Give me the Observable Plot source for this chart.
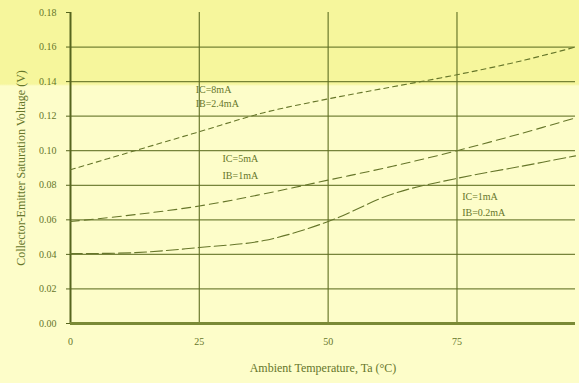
<!DOCTYPE html>
<html>
<head>
<meta charset="utf-8">
<script src="https://cdn.jsdelivr.net/npm/d3@7"></script>
<script src="https://cdn.jsdelivr.net/npm/@observablehq/plot@0.6"></script>
<style>
  html, body { margin: 0; padding: 0; }
  #wrap { position: relative; width: 579px; height: 383px; overflow: hidden;
          background: linear-gradient(to bottom, #f6f69c 0px, #f6f69c 84px, #fdfdc9 86px, #fdfdc9 100%); }
  #wrap svg { position: absolute; left: 0; top: 0; background: transparent; }
</style>
</head>
<body>
<div id="wrap"></div>
<script>
const temps = [0, 12.5, 25, 37.5, 50, 62.5, 75, 87.5, 98];
const vTop = [0.089, 0.100, 0.111, 0.122, 0.130, 0.137, 0.144, 0.152, 0.160];
const vMid = [0.059, 0.063, 0.068, 0.075, 0.083, 0.091, 0.100, 0.110, 0.119];
const vBot = [0.0405, 0.041, 0.044, 0.048, 0.059, 0.075, 0.084, 0.091, 0.097];
const xTicks = [0, 25, 50, 75];
const yTicks = [0, 0.02, 0.04, 0.06, 0.08, 0.10, 0.12, 0.14, 0.16, 0.18];
const gridY = [0.02, 0.04, 0.06, 0.08, 0.10, 0.12, 0.14, 0.16];
const gridX = [25, 50, 75];
const labelText = ["IC=8mA", "IB=2.4mA", "IC=5mA", "IB=1mA", "IC=1mA", "IB=0.2mA"];
const labelX = [24.3, 24.3, 29.5, 29.5, 76, 76];
const labelY = [0.135, 0.127, 0.0955, 0.0857, 0.0735, 0.0643];

const series = [
  {name: "top", v: vTop, dash: "5,4"},
  {name: "mid", v: vMid, dash: "9,5"},
  {name: "bot", v: vBot, dash: "12,4"}
];
const rows = series.flatMap(s => temps.map((t, i) => ({s: s.name, t, v: s.v[i]})));
const labels = labelText.map((txt, i) => ({txt, x: labelX[i], y: labelY[i]}));

const ink = "#66762a";
const chart = Plot.plot({
  width: 579,
  height: 383,
  marginLeft: 70,
  marginRight: 4,
  marginTop: 12,
  marginBottom: 60,
  style: {fontFamily: "Liberation Serif, serif", fontSize: "10px", color: ink, background: "transparent"},
  x: {domain: [0, 98]},
  y: {domain: [0, 0.18]},
  marks: [
    Plot.ruleY(gridY, {stroke: "#5f6f22", strokeWidth: 1.3, strokeOpacity: 0.85}),
    Plot.ruleX(gridX, {stroke: "#5f6f22", strokeWidth: 1.3, strokeOpacity: 0.85}),
    Plot.ruleX([0], {stroke: "#56651e", strokeWidth: 2}),
    Plot.ruleY([0], {stroke: "#7a8a36", strokeWidth: 3}),
    ...series.map(s => Plot.line(rows.filter(r => r.s === s.name), {
      x: "t", y: "v", curve: "catmull-rom", stroke: "#66762a", strokeWidth: 1.1, strokeDasharray: s.dash
    })),
    Plot.text(labels, {x: "x", y: "y", text: "txt", textAnchor: "start", fill: ink, fontSize: 10}),
    Plot.axisX(xTicks, {tickSize: 0, tickPadding: 14, tickFormat: d => String(d), fill: ink, fontSize: 10,
      label: "Ambient Temperature, Ta (°C)", labelAnchor: "center", labelArrow: "none", labelOffset: 48}),
    Plot.axisY(yTicks, {tickSize: 4, tickPadding: 10, tickFormat: d => d.toFixed(2), fill: ink, stroke: "#56651e", fontSize: 10,
      label: "Collector-Emitter Saturation Voltage (V)", labelAnchor: "center", labelArrow: "none", labelOffset: 54})
  ]
});
chart.querySelectorAll("[aria-label='x-axis label'] text, [aria-label='y-axis label'] text").forEach(t => {
  t.setAttribute("font-size", "12");
  t.style.fontSize = "12px";
});
document.getElementById("wrap").appendChild(chart);
</script>
</body>
</html>
